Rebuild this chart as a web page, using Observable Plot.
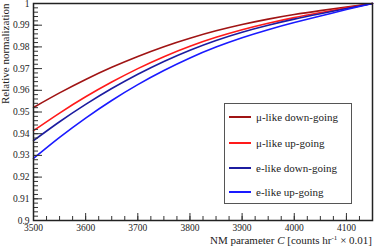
<!DOCTYPE html>
<html><head><meta charset="utf-8">
<script src="https://cdn.jsdelivr.net/npm/d3@7"></script>
<script src="https://cdn.jsdelivr.net/npm/@observablehq/plot@0.6"></script>
<style>
body{margin:0;background:#fff;}
#wrap{position:relative;width:374px;height:247px;font-family:"Liberation Serif","Times New Roman",serif;}
#legend{position:absolute;left:224px;top:103px;width:128px;height:101px;border:1px solid #555;background:#fff;box-sizing:border-box;}
.row{position:absolute;left:0;height:14px;width:126px;font-size:11px;color:#222;}
.swatch{position:absolute;left:4px;top:6px;width:22px;height:2px;}
.label{position:absolute;left:31px;top:0;white-space:nowrap;line-height:14px;}
#xtitle{position:absolute;right:2px;top:233px;font-size:11px;color:#222;white-space:nowrap;line-height:14px;}
#xtitle sup{font-size:7px;vertical-align:4px;line-height:0;}
</style>
</head><body>
<div id="wrap"></div>
<script>
const xValues = [3500,3550,3600,3650,3700,3750,3800,3850,3900,3950,4000,4050,4100,4150];
const muDown = [0.9521,0.9588,0.9650,0.9706,0.9756,0.9801,0.9840,0.9874,0.9903,0.9928,0.9949,0.9967,0.9984,1.0];
const muUp   = [0.9414,0.9495,0.9570,0.9638,0.9700,0.9755,0.9803,0.9844,0.9879,0.9909,0.9935,0.9958,0.9980,1.0];
const eDown  = [0.9368,0.9455,0.9535,0.9608,0.9674,0.9733,0.9785,0.9830,0.9868,0.9900,0.9928,0.9953,0.9977,1.0];
const eUp    = [0.9286,0.9383,0.9472,0.9553,0.9626,0.9691,0.9749,0.9799,0.9842,0.9879,0.9912,0.9942,0.9972,1.0];
const seriesNames = ["μ-like down-going","μ-like up-going","e-like down-going","e-like up-going"];
const seriesColors = ["#a01414","#ff1a1a","#1c1ca0","#1a1aff"];
const xTicks = [3500,3600,3700,3800,3900,4000,4100];
const yTicks = [0.9,0.91,0.92,0.93,0.94,0.95,0.96,0.97,0.98,0.99,1.0];
const xMinor = d3.range(3500, 4151, 25);
const yMinor = d3.range(0, 51).map(i => +(0.9 + i*0.002).toFixed(3));

const seriesValues = [muDown, muUp, eDown, eUp];
const data = [];
seriesNames.forEach((s, k) => xValues.forEach((x, i) => data.push({series: s, x, y: seriesValues[k][i]})));

const font = "'Liberation Serif', 'Times New Roman', serif";
const plot = Plot.plot({
  width: 374, height: 247,
  marginLeft: 33, marginRight: 2, marginTop: 3, marginBottom: 27,
  style: {fontFamily: font, fontSize: "9.5px", background: "transparent", color: "#222"},
  x: {domain: [3500, 4150]},
  y: {domain: [0.9, 1.0]},
  color: {domain: seriesNames, range: seriesColors},
  marks: [
    Plot.line(data, {x: "x", y: "y", z: "series", stroke: "series", strokeWidth: 1.6, curve: "natural"}),
    Plot.axisX(xTicks, {tickSize: -7, tickFormat: () => "", stroke: "#333", label: null}),
    Plot.axisX(xMinor, {tickSize: -4, tickFormat: () => "", stroke: "#333", label: null}),
    Plot.axisX(xTicks, {tickSize: 0, tickPadding: 4, tickFormat: d => String(d), label: null, fill: "#222"}),
    Plot.axisY(yTicks, {tickSize: -9, tickFormat: () => "", stroke: "#333", label: null}),
    Plot.axisY(yMinor, {tickSize: -5, tickFormat: () => "", stroke: "#333", label: null}),
    Plot.axisY(yTicks, {tickSize: 0, tickPadding: 4, tickFormat: d => String(+d.toFixed(2)), label: null, fill: "#222"}),
    Plot.frame({stroke: "#222", strokeWidth: 1.5}),
    Plot.text(["Relative normalization"], {text: d => d, frameAnchor: "top-left", rotate: -90, textAnchor: "end", lineAnchor: "middle", dx: -28.5, fontSize: 11, fill: "#222"})
  ]
});
const wrap = document.getElementById("wrap");
wrap.appendChild(plot);

const legend = document.createElement("div");
legend.id = "legend";
const centers = [13, 39, 64, 88];
seriesNames.forEach((s, i) => {
  const row = document.createElement("div");
  row.className = "row";
  row.style.top = (centers[i] - 7) + "px";
  const sw = document.createElement("div");
  sw.className = "swatch";
  sw.style.background = seriesColors[i];
  const lb = document.createElement("div");
  lb.className = "label";
  lb.textContent = s;
  row.appendChild(sw); row.appendChild(lb);
  legend.appendChild(row);
});
wrap.appendChild(legend);

const xt = document.createElement("div");
xt.id = "xtitle";
xt.innerHTML = "NM parameter <i>C</i> [counts hr<sup>-1</sup> × 0.01]";
wrap.appendChild(xt);
</script>
</body></html>
